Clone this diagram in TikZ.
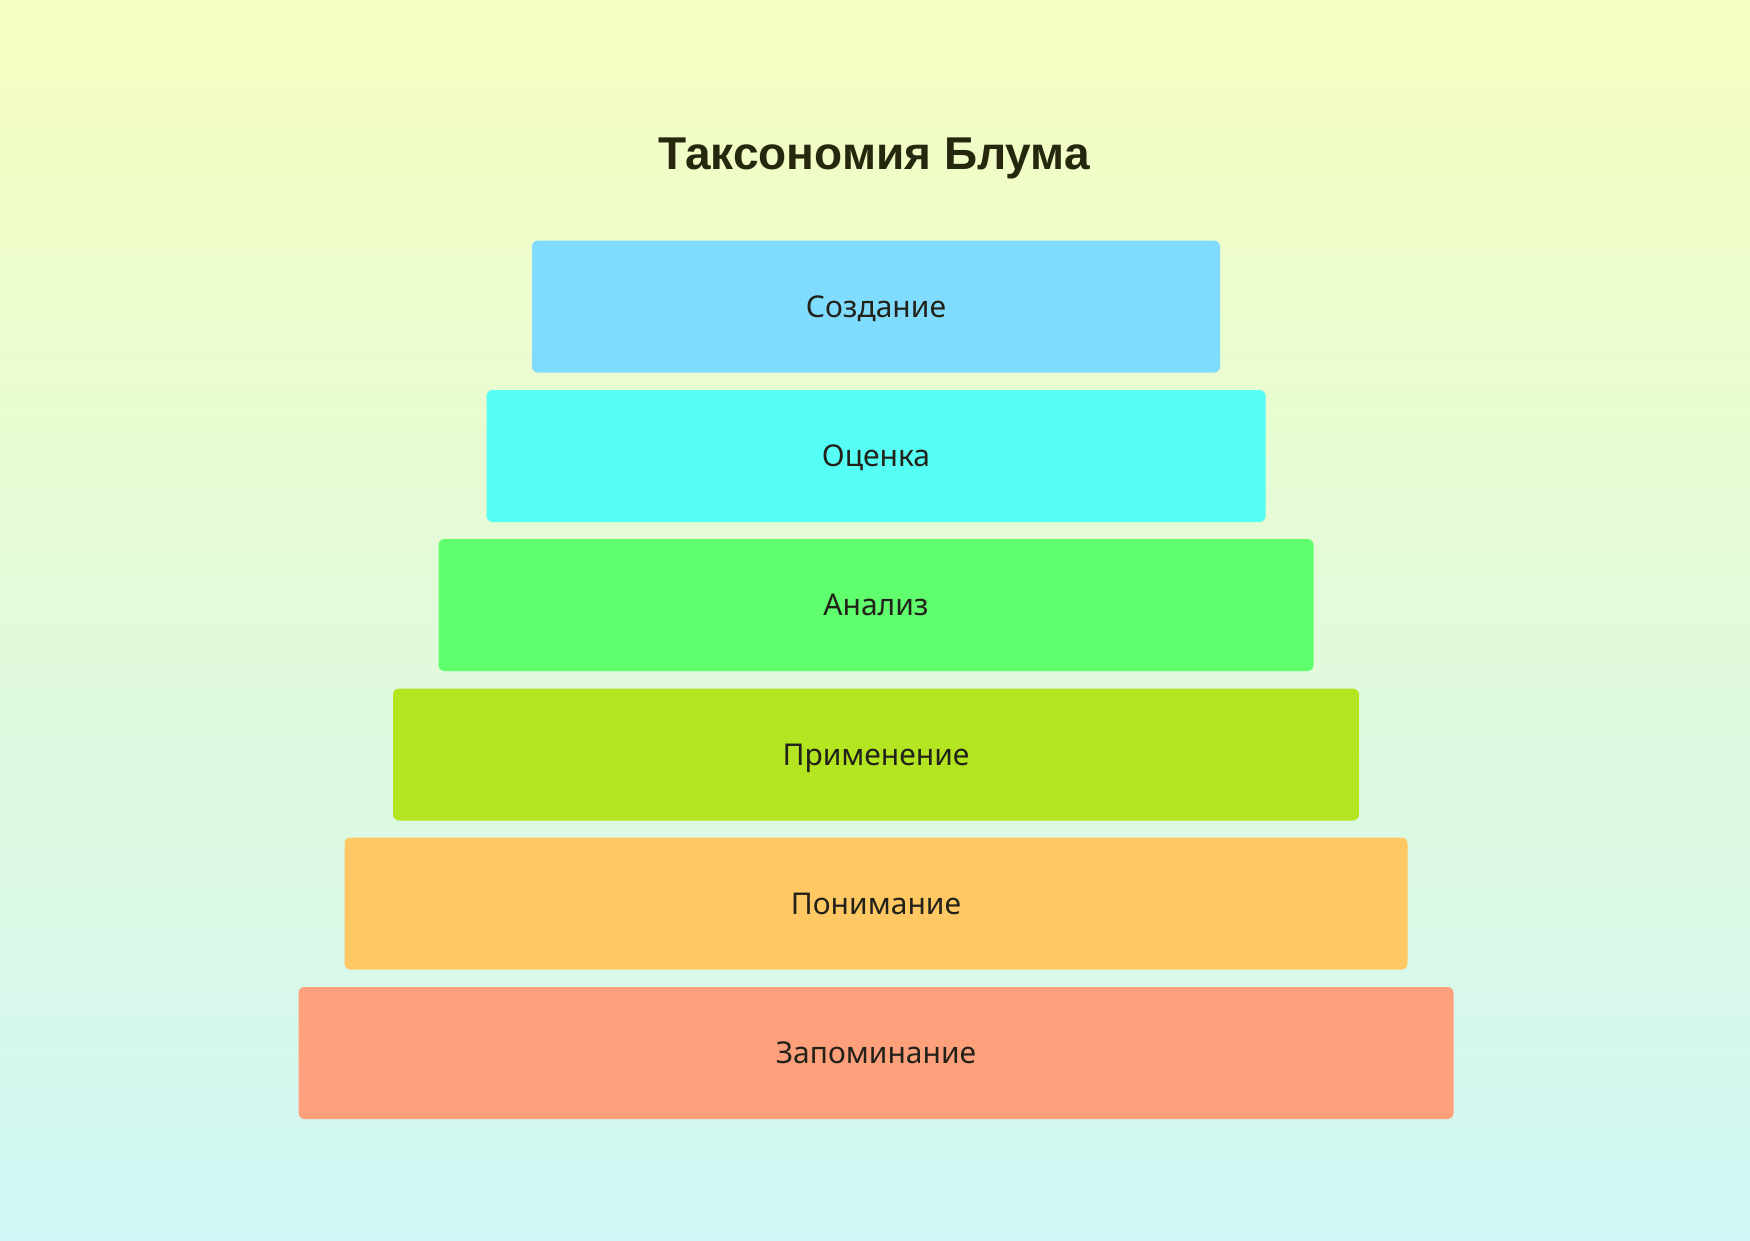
\documentclass[tikz,border=0pt]{standalone}
\usepackage{fontspec}
\setmainfont{Noto Sans}
\newfontfamily\titlefont{Liberation Sans}
\begin{document}
\begin{tikzpicture}[x=1pt,y=1pt,
  level/.style={rounded corners=6pt, minimum height=132pt, inner sep=0pt,
    text=textdark, font=\fontsize{30}{35}\selectfont, text height=21pt, text depth=0pt},
  titlestyle/.style={text=titledark, font=\titlefont\bfseries\fontsize{46}{54}\selectfont, inner sep=0pt, text height=33pt, text depth=0pt}]
\definecolor{bgtop}{RGB}{245,254,192}
\definecolor{bgbot}{RGB}{208,247,245}
\definecolor{textdark}{RGB}{34,34,26}
\definecolor{titledark}{RGB}{38,40,14}
\definecolor{c1}{RGB}{128,220,255}
\definecolor{c2}{RGB}{85,255,245}
\definecolor{c3}{RGB}{95,255,110}
\definecolor{c4}{RGB}{179,230,32}
\definecolor{c5}{RGB}{255,200,98}
\definecolor{c6}{RGB}{255,160,124}
\shade[top color=bgtop, bottom color=bgbot] (0,0) rectangle (1750,-1240);
\useasboundingbox (0,0) rectangle (1750,-1240);
\node[titlestyle] (title) at (874,-153) {Таксономия Блума};
\node[level, fill=c1, minimum width=688pt] (n1) at (876,-306.5) {Создание};
\node[level, fill=c2, minimum width=779pt] (n2) at (876,-456) {Оценка};
\node[level, fill=c3, minimum width=875pt] (n3) at (876,-605) {Анализ};
\node[level, fill=c4, minimum width=966pt] (n4) at (876,-754.5) {Применение};
\node[level, fill=c5, minimum width=1063pt] (n5) at (876,-903.5) {Понимание};
\node[level, fill=c6, minimum width=1155pt] (n6) at (876,-1053) {Запоминание};
\end{tikzpicture}
\end{document}
